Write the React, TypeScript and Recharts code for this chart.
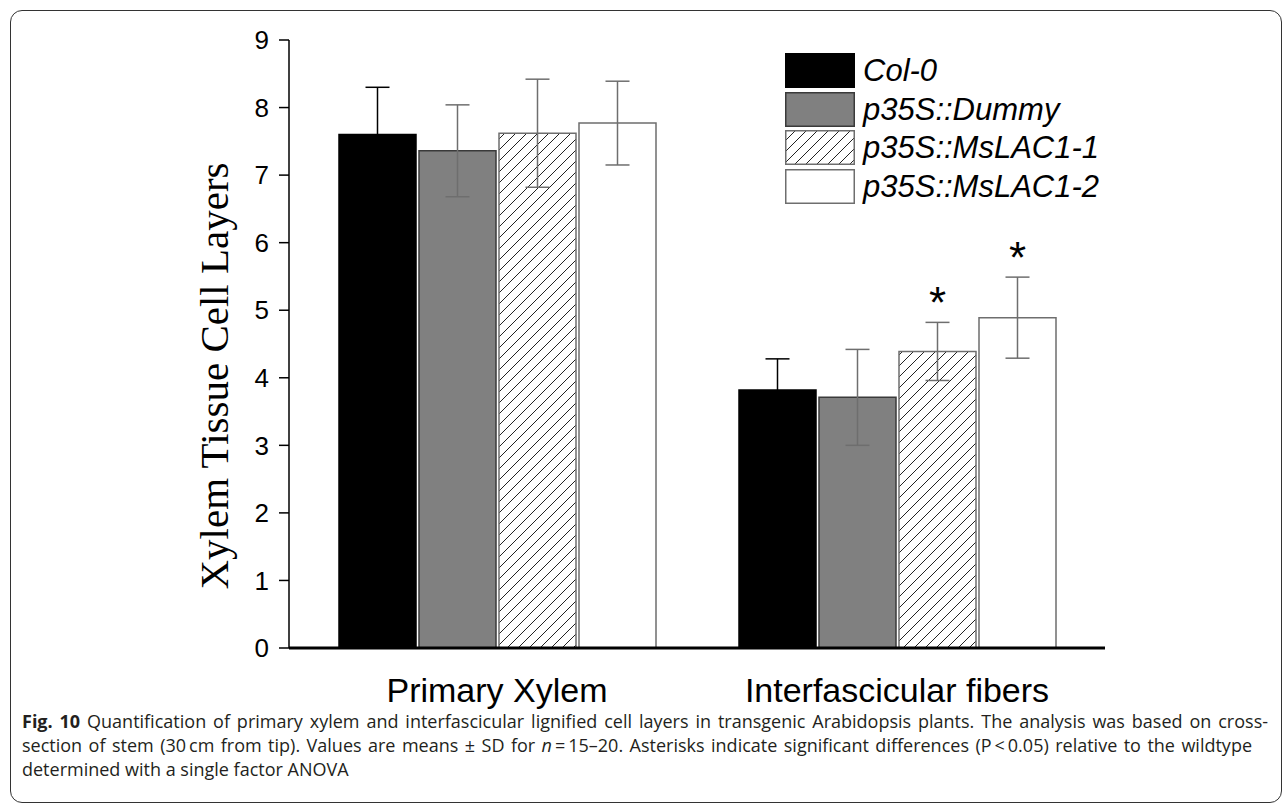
import { BarChart, Bar, XAxis, YAxis, ErrorBar, Legend, LabelList } from 'recharts';

const groups = ['Primary Xylem', 'Interfascicular fibers'];
const lineNames = ['Col-0', 'p35S::Dummy', 'p35S::MsLAC1-1', 'p35S::MsLAC1-2'];

// means
const col0 = [7.6, 3.82];
const dummy = [7.36, 3.71];
const lac1 = [7.62, 4.39];
const lac2 = [7.77, 4.89];

// SD
const col0Sd = [0.7, 0.46];
const dummySd = [0.68, 0.71];
const lac1Sd = [0.8, 0.43];
const lac2Sd = [0.62, 0.6];

// asterisks (P < 0.05)
const lac1Sig = [false, true];
const lac2Sig = [false, true];

const yTicks = [0, 1, 2, 3, 4, 5, 6, 7, 8, 9];

const data = groups.map((g, i) => ({
  group: g,
  col0: col0[i],
  col0Sd: col0Sd[i],
  dummy: dummy[i],
  dummySd: dummySd[i],
  lac1: lac1[i],
  lac1Sd: lac1Sd[i],
  lac2: lac2[i],
  lac2Sd: lac2Sd[i],
}));

const swatchFills = ['#000', '#808080', 'url(#hatchLegend)', '#fff'];
const swatchStrokes = ['#000', '#3a3a3a', '#6e6e6e', '#6e6e6e'];

const sans = '"Liberation Sans", Arial, sans-serif';

const star = (sig: boolean[], sd: number[]) => (p: any) => {
  const vb = p.viewBox ?? p;
  const i = p.index;
  if (!sig[i]) return null;
  const perUnit = vb.height / p.value;
  return (
    <text
      x={vb.x + vb.width / 2}
      y={vb.y - sd[i] * perUnit - 4}
      textAnchor="middle"
      fontFamily={sans}
      fontSize={44}
      fill="#000"
    >
      *
    </text>
  );
};

const LegendBox = () => (
  <div style={{ display: 'flex', flexDirection: 'column' }}>
    {lineNames.map((n, i) => (
      <div key={n} style={{ height: 38.7, display: 'flex', alignItems: 'center' }}>
        <svg width={70} height={35} style={{ display: 'block' }}>
          <defs>
            <pattern id="hatchLegend" patternUnits="userSpaceOnUse" width={11} height={11}>
              <line x1={0} y1={11} x2={11} y2={0} stroke="#222" strokeWidth={1} />
              <line x1={-1} y1={1} x2={1} y2={-1} stroke="#222" strokeWidth={1} />
              <line x1={10} y1={12} x2={12} y2={10} stroke="#222" strokeWidth={1} />
            </pattern>
          </defs>
          <rect x={0.75} y={0.75} width={68.5} height={33.5} fill={swatchFills[i]} stroke={swatchStrokes[i]} strokeWidth={1.5} />
        </svg>
        <span style={{ marginLeft: 8, fontFamily: sans, fontStyle: 'italic', fontSize: 31, color: '#000', lineHeight: 1 }}>
          {n}
        </span>
      </div>
    ))}
  </div>
);

const YLabel = (p: any) => {
  const vb = p.viewBox;
  const cx = vb.x + 214;
  const cy = vb.y + vb.height / 2 + 32;
  return (
    <text
      x={cx}
      y={cy}
      transform={`rotate(-90, ${cx}, ${cy})`}
      textAnchor="middle"
      dominantBaseline="central"
      fontFamily='"Liberation Serif", "Times New Roman", serif'
      fontSize={41}
      fill="#000"
    >
      Xylem Tissue Cell Layers
    </text>
  );
};

export default function App() {
  return (
    <div style={{ position: 'absolute', left: 0, top: 0, width: 1288, height: 805, background: '#fff', overflow: 'hidden' }}>
      <div
        style={{
          position: 'absolute',
          left: 10,
          top: 10,
          width: 1270,
          height: 791,
          border: '1.5px solid #333',
          borderRadius: 12,
        }}
      />
      <div style={{ position: 'absolute', left: 0, top: 0 }}>
        <BarChart
          width={1288}
          height={720}
          data={data}
          margin={{ top: 40, right: 183, left: 0, bottom: 0 }}
          barSize={77}
          barGap={3}
        >
          <defs>
            <pattern id="hatch" patternUnits="userSpaceOnUse" width={11} height={11}>
              <line x1={0} y1={11} x2={11} y2={0} stroke="#222" strokeWidth={1} />
              <line x1={-1} y1={1} x2={1} y2={-1} stroke="#222" strokeWidth={1} />
              <line x1={10} y1={12} x2={12} y2={10} stroke="#222" strokeWidth={1} />
            </pattern>
          </defs>
          <XAxis
            dataKey="group"
            height={72}
            padding={{ left: 8, right: 8 }}
            tickLine={false}
            tickSize={0}
            tickMargin={30}
            axisLine={{ stroke: '#000', strokeWidth: 3 }}
            tick={{ fontFamily: sans, fontSize: 34, fill: '#000' }}
          />
          <XAxis xAxisId="top" dataKey="group" orientation="top" height={0} tick={false} tickLine={false} axisLine={{ stroke: '#000', strokeWidth: 3 }} />
          <YAxis
            width={289}
            domain={[0, 9]}
            ticks={yTicks}
            interval={0}
            tickSize={10}
            tickMargin={10}
            axisLine={{ stroke: '#000', strokeWidth: 1.5 }}
            tickLine={{ stroke: '#000', strokeWidth: 1.5 }}
            tick={{ fontFamily: sans, fontSize: 26, fill: '#000' }}
            label={{ content: YLabel }}
          />
          <YAxis yAxisId="right" orientation="right" width={0} domain={[0, 9]} tick={false} tickLine={false} axisLine={{ stroke: '#000', strokeWidth: 3 }} />
          <Legend
            layout="vertical"
            align="center"
            verticalAlign="middle"
            content={() => <LegendBox />}
            wrapperStyle={{ left: 785, top: 51, width: 320, height: 160 }}
          />
          <Bar dataKey="col0" name="Col-0" fill="#000" stroke="#000" strokeWidth={1.5} isAnimationActive={false}>
            <ErrorBar dataKey="col0Sd" width={12} stroke="#000" strokeWidth={1.5} />
          </Bar>
          <Bar dataKey="dummy" name="p35S::Dummy" fill="#808080" stroke="#3a3a3a" strokeWidth={1.5} isAnimationActive={false}>
            <ErrorBar dataKey="dummySd" width={12} stroke="#6e6e6e" strokeWidth={1.5} />
          </Bar>
          <Bar dataKey="lac1" name="p35S::MsLAC1-1" fill="url(#hatch)" stroke="#6e6e6e" strokeWidth={1.5} isAnimationActive={false}>
            <ErrorBar dataKey="lac1Sd" width={12} stroke="#6e6e6e" strokeWidth={1.5} />
            <LabelList dataKey="lac1" content={star(lac1Sig, lac1Sd)} />
          </Bar>
          <Bar dataKey="lac2" name="p35S::MsLAC1-2" fill="#fff" stroke="#6e6e6e" strokeWidth={1.5} isAnimationActive={false}>
            <ErrorBar dataKey="lac2Sd" width={12} stroke="#6e6e6e" strokeWidth={1.5} />
            <LabelList dataKey="lac2" content={star(lac2Sig, lac2Sd)} />
          </Bar>
        </BarChart>
      </div>
      <div
        style={{
          position: 'absolute',
          left: 22,
          top: 709,
          width: 1246,
          fontFamily: '"Open Sans", "Noto Sans", sans-serif',
          fontSize: 18,
          lineHeight: '24px',
          color: '#231f20',
          whiteSpace: 'nowrap',
        }}
      >
        <div style={{ textAlign: 'justify', textAlignLast: 'justify' }}>
          <b>Fig. 10</b> Quantification of primary xylem and interfascicular lignified cell layers in transgenic Arabidopsis plants. The analysis was based on cross-
        </div>
        <div style={{ width: 1230, textAlign: 'justify', textAlignLast: 'justify' }}>
          section of stem (30&#8201;cm from tip). Values are means ± SD for <i>n</i>&#8201;=&#8201;15–20. Asterisks indicate significant differences (P&#8201;&lt;&#8201;0.05) relative to the wildtype
        </div>
        <div>determined with a single factor ANOVA</div>
      </div>
    </div>
  );
}
